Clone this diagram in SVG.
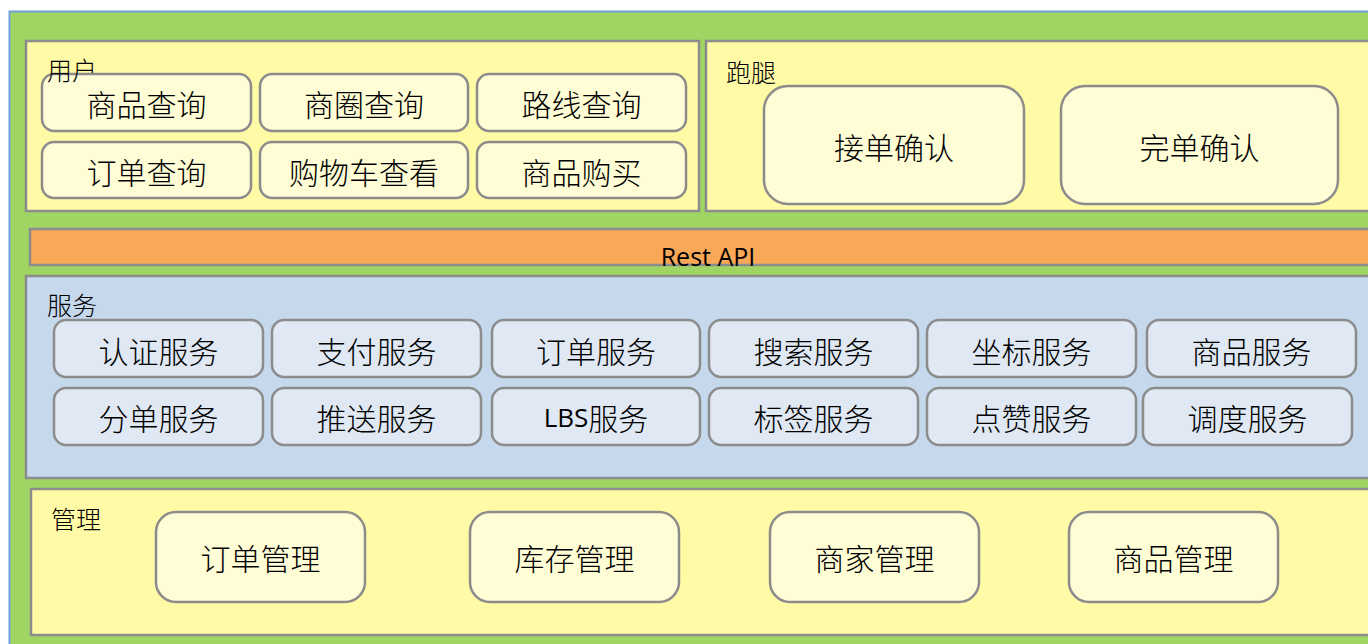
<svg xmlns="http://www.w3.org/2000/svg" width="1368" height="644" viewBox="0 0 1368 644">
<style>
.panel{stroke:#8c8c8c;stroke-width:2.5}
.yel{fill:#fffaa6}
.blu{fill:#c5d8ec}
.ubox{fill:#fffdd5;stroke:#8c8c8c;stroke-width:2.5}
.sbox{fill:#dfe8f3;stroke:#8c8c8c;stroke-width:2.5}
.t{font-family:"Noto Sans CJK SC","Noto Sans",sans-serif;font-size:30px;font-weight:300;fill:#000;text-anchor:middle;dominant-baseline:central}
.lbl{font-family:"Noto Sans CJK SC","Noto Sans",sans-serif;font-size:25px;font-weight:300;fill:#000;dominant-baseline:central}
.lat{font-family:"Open Sans","Liberation Sans",sans-serif;font-weight:400}
</style>
<rect width="1368" height="644" fill="#ffffff"/>
<g id="outer">
<rect x="9.5" y="11.5" width="1380" height="650" fill="#a1d563" stroke="#6f9ed8" stroke-width="2"/>
</g>
<g id="user">
<rect class="panel yel" x="26" y="41" width="673" height="170"/>
<g id="u1"><rect class="ubox" x="42" y="74" width="209" height="57" rx="12"/><text class="t" x="146.5" y="103">商品查询</text></g>
<g id="u2"><rect class="ubox" x="260" y="74" width="208" height="57" rx="12"/><text class="t" x="364" y="103">商圈查询</text></g>
<g id="u3"><rect class="ubox" x="477" y="74" width="209" height="57" rx="12"/><text class="t" x="581.5" y="103">路线查询</text></g>
<g id="u4"><rect class="ubox" x="42" y="142" width="209" height="56" rx="12"/><text class="t" x="146.5" y="171">订单查询</text></g>
<g id="u5"><rect class="ubox" x="260" y="142" width="208" height="56" rx="12"/><text class="t" x="364" y="171">购物车查看</text></g>
<g id="u6"><rect class="ubox" x="477" y="142" width="209" height="56" rx="12"/><text class="t" x="581.5" y="171">商品购买</text></g>
<text class="lbl" x="47" y="69">用户</text>
</g>
<g id="runner">
<rect class="panel yel" x="706" y="41" width="700" height="170"/>
<text class="lbl" x="726" y="71">跑腿</text>
<g id="r1"><rect class="ubox" x="764" y="86" width="260" height="118" rx="24"/><text class="t" x="894" y="146">接单确认</text></g>
<g id="r2"><rect class="ubox" x="1061" y="86" width="277" height="118" rx="24"/><text class="t" x="1199.5" y="146">完单确认</text></g>
</g>
<g id="api">
<rect x="30" y="229" width="1380" height="36" fill="#f9a857" stroke="#8c8c8c" stroke-width="2.5"/>
<text class="lat" x="708" y="266" font-size="25" fill="#000" text-anchor="middle">Rest API</text>
</g>
<g id="services">
<rect class="panel blu" x="26" y="276" width="1380" height="202"/>
<text class="lbl" x="47" y="304">服务</text>
<g id="s1"><rect class="sbox" x="54" y="320" width="209" height="57" rx="12"/><text class="t" x="158.5" y="350">认证服务</text></g>
<g id="s2"><rect class="sbox" x="272" y="320" width="209" height="57" rx="12"/><text class="t" x="376.5" y="350">支付服务</text></g>
<g id="s3"><rect class="sbox" x="492" y="320" width="208" height="57" rx="12"/><text class="t" x="596" y="350">订单服务</text></g>
<g id="s4"><rect class="sbox" x="709" y="320" width="209" height="57" rx="12"/><text class="t" x="813.5" y="350">搜索服务</text></g>
<g id="s5"><rect class="sbox" x="927" y="320" width="209" height="57" rx="12"/><text class="t" x="1031.5" y="350">坐标服务</text></g>
<g id="s6"><rect class="sbox" x="1147" y="320" width="209" height="57" rx="12"/><text class="t" x="1251.5" y="350">商品服务</text></g>
<g id="s7"><rect class="sbox" x="54" y="388" width="209" height="57" rx="12"/><text class="t" x="158.5" y="417">分单服务</text></g>
<g id="s8"><rect class="sbox" x="272" y="388" width="209" height="57" rx="12"/><text class="t" x="376.5" y="417">推送服务</text></g>
<g id="s9"><rect class="sbox" x="492" y="388" width="208" height="57" rx="12"/><text class="t" x="596" y="417"><tspan class="lat" font-size="26">LBS</tspan>服务</text></g>
<g id="s10"><rect class="sbox" x="709" y="388" width="209" height="57" rx="12"/><text class="t" x="813.5" y="417">标签服务</text></g>
<g id="s11"><rect class="sbox" x="927" y="388" width="209" height="57" rx="12"/><text class="t" x="1031.5" y="417">点赞服务</text></g>
<g id="s12"><rect class="sbox" x="1143" y="388" width="209" height="57" rx="12"/><text class="t" x="1247.5" y="417">调度服务</text></g>
</g>
<g id="manage">
<rect class="panel yel" x="31" y="489" width="1380" height="146"/>
<text class="lbl" x="51" y="518">管理</text>
<g id="m1"><rect class="ubox" x="156" y="512" width="209" height="90" rx="20"/><text class="t" x="260.5" y="557">订单管理</text></g>
<g id="m2"><rect class="ubox" x="470" y="512" width="209" height="90" rx="20"/><text class="t" x="574.5" y="557">库存管理</text></g>
<g id="m3"><rect class="ubox" x="770" y="512" width="209" height="90" rx="20"/><text class="t" x="874.5" y="557">商家管理</text></g>
<g id="m4"><rect class="ubox" x="1069" y="512" width="209" height="90" rx="20"/><text class="t" x="1173.5" y="557">商品管理</text></g>
</g>
<g id="connectors"></g>
</svg>
